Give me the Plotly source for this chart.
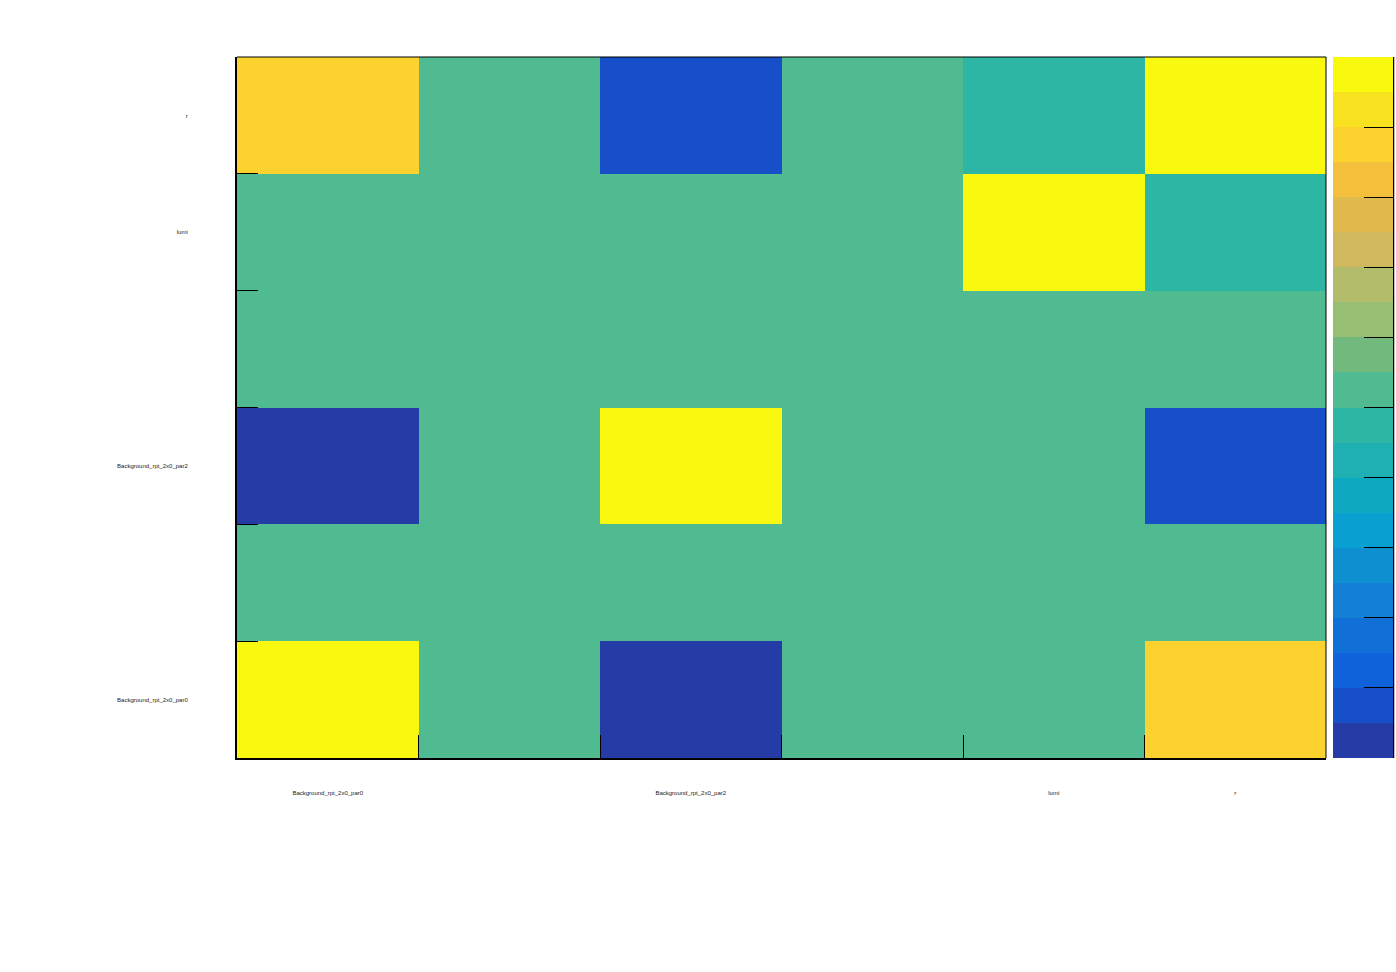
import plotly.graph_objects as go

# parameter names (columns left->right, rows bottom->top)
params = ["Background_rpt_2x0_par0", "Background_rpt_2x0_par1", "Background_rpt_2x0_par2",
          "Background_rpt_2x0_par3", "lumi", "r"]
# only these labels are drawn in the reference
shown_labels = ["Background_rpt_2x0_par0", "", "Background_rpt_2x0_par2", "", "lumi", "r"]

# correlation values, rows bottom->top
corr_par0 = [1.0, 0.0, -0.95, 0.0, 0.0, 0.75]
corr_par1 = [0.0, 0.0, 0.0, 0.0, 0.0, 0.0]
corr_par2 = [-0.95, 0.0, 1.0, 0.0, 0.0, -0.85]
corr_par3 = [0.0, 0.0, 0.0, 0.0, 0.0, 0.0]
corr_lumi = [0.0, 0.0, 0.0, 0.0, 1.0, -0.05]
corr_r = [0.75, 0.0, -0.85, 0.0, -0.05, 1.0]
z = [corr_par0, corr_par1, corr_par2, corr_par3, corr_lumi, corr_r]

# colour bar tick values (ends nudged inside so they are drawn)
cbar_ticks = [-0.9995, -0.8, -0.6, -0.4, -0.2, 0.0, 0.2, 0.4, 0.6, 0.8, 0.9995]

# 20-band palette, bottom -> top
band_colors = ["#253BA5", "#164FC8", "#1062DA", "#1170D7", "#1480D5", "#0E8FD0", "#08A0D0",
               "#0CA9C0", "#1FB0B3", "#2DB6A4", "#50BA91", "#72B97D", "#96BF74", "#B2BC6A",
               "#CFB85E", "#E1BA4D", "#F4C03C", "#FCD22E", "#F8E11E", "#F9F90F"]
n = len(band_colors)
colorscale = []
for i, c in enumerate(band_colors):
    colorscale.append([i / n, c])
    colorscale.append([(i + 1) / n, c])

idx = list(range(len(params)))
bounds = [i - 0.5 for i in range(len(params) + 1)]

W, H = 1396, 972
L, R, T, B = 237, W - 1326, 57, H - 758
pw = W - L - R

fig = go.Figure()
fig.add_trace(go.Heatmap(
    z=z, x=idx, y=idx, zmin=-1, zmax=1, colorscale=colorscale,
    hoverinfo="skip",
    colorbar=dict(
        x=(1333 - L) / pw, xanchor="left", xpad=0,
        y=0.5, yanchor="middle", len=1, lenmode="fraction", ypad=0,
        thickness=60, thicknessmode="pixels",
        outlinewidth=0,
        tickmode="array", tickvals=cbar_ticks,
        ticks="inside", ticklen=29, tickwidth=1, tickcolor="black",
        showticklabels=False,
    ),
))
# invisible trace for secondary axes (tick marks at cell boundaries)
fig.add_trace(go.Scatter(x=[bounds[0]], y=[bounds[0]], xaxis="x2", yaxis="y2",
                         mode="markers", marker=dict(opacity=0), hoverinfo="skip",
                         showlegend=False))

lab_font = dict(family="Liberation Sans, Arial, sans-serif", size=6, color="#222222")
fig.update_layout(
    width=W, height=H, margin=dict(l=L, r=R, t=T, b=B, autoexpand=False),
    paper_bgcolor="white", plot_bgcolor="white",
    xaxis=dict(range=[bounds[0], bounds[-1]], tickmode="array", tickvals=idx,
               ticktext=shown_labels, ticks="", showgrid=False, zeroline=False,
               showline=True, linecolor="black", linewidth=2,
               tickfont=lab_font, ticklabelstandoff=28),
    yaxis=dict(range=[bounds[0], bounds[-1]], tickmode="array", tickvals=idx,
               ticktext=shown_labels, ticks="", showgrid=False, zeroline=False,
               showline=True, linecolor="black", linewidth=2,
               tickfont=lab_font, ticklabelstandoff=46),
    xaxis2=dict(overlaying="x", side="bottom", range=[bounds[0], bounds[-1]],
                tickmode="array", tickvals=bounds, ticks="inside", ticklen=23,
                tickcolor="black", tickwidth=1, showticklabels=False,
                showgrid=False, zeroline=False, showline=False),
    yaxis2=dict(overlaying="y", side="left", range=[bounds[0], bounds[-1]],
                tickmode="array", tickvals=bounds, ticks="inside", ticklen=21,
                tickcolor="black", tickwidth=1, showticklabels=False,
                showgrid=False, zeroline=False, showline=False),
    shapes=[
        dict(type="line", xref="paper", yref="paper", x0=0, x1=1, y0=1, y1=1,
             line=dict(color="black", width=1)),
        dict(type="line", xref="paper", yref="paper", x0=1, x1=1, y0=0, y1=1,
             line=dict(color="black", width=1)),
        dict(type="line", xref="paper", yref="paper", x0=(1393.5 - L) / pw, x1=(1393.5 - L) / pw,
             y0=0, y1=1, line=dict(color="black", width=1.5)),
    ],
)
fig.write_html("out.html")
